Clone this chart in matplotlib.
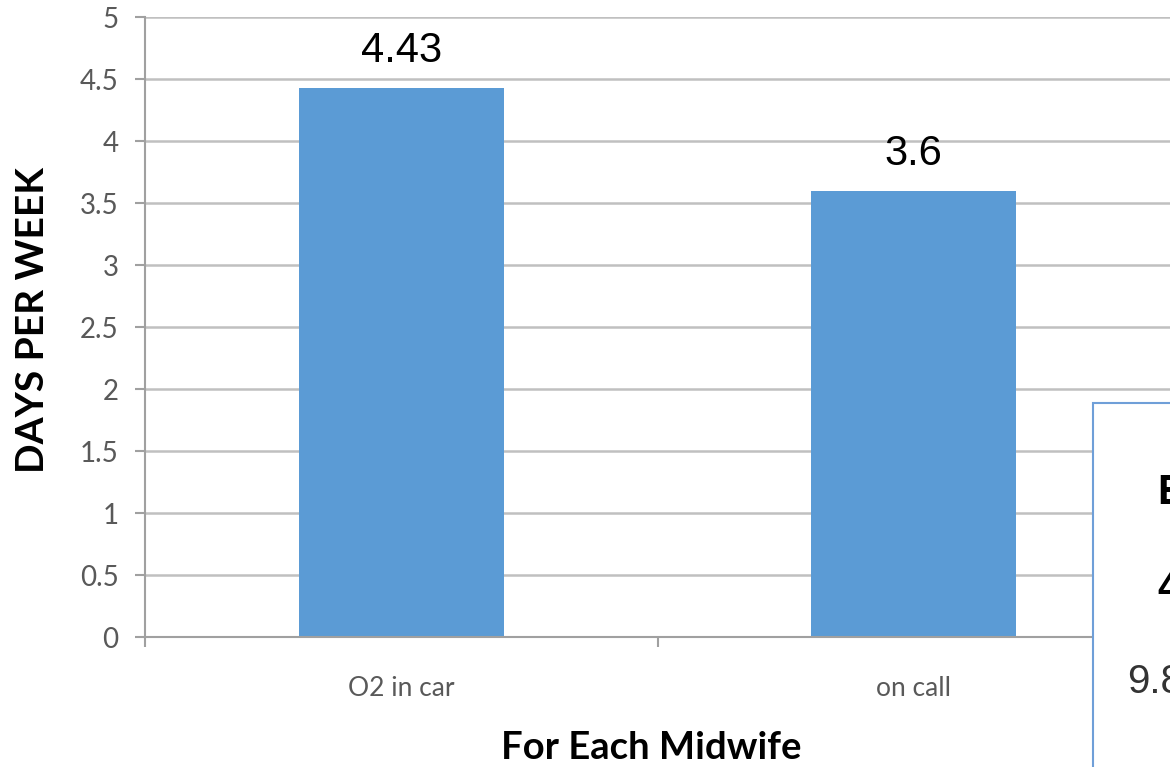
import matplotlib
matplotlib.use('Agg')
from matplotlib import pyplot as plt
from matplotlib.patches import Rectangle
import numpy as np

categories = ['O2 in car', 'on call']
days_per_week = [4.43, 3.6]
value_labels = ['4.43', '3.6']
yticks = [0, 0.5, 1, 1.5, 2, 2.5, 3, 3.5, 4, 4.5, 5]
ytick_labels = ['0', '0.5', '1', '1.5', '2', '2.5', '3', '3.5', '4', '4.5', '5']
# text of the partly visible box on the right edge
box_lines = ['E', '4', '9.8']

bar_color = '#5b9bd5'
grid_color = '#c0c0c0'
tick_color = '#595959'

fig = plt.figure(figsize=(11.7, 7.67), dpi=100)
ax = fig.add_axes([145 / 1170, 130 / 767, 1 - 145 / 1170, 620 / 767])

x = np.arange(len(categories))
ax.bar(x, days_per_week, width=0.4, color=bar_color, zorder=2)

for a, b, s in zip(x, days_per_week, value_labels):
    ax.annotate(s, (a, b), xytext=(0, 12), textcoords='offset points',
                ha='center', va='bottom', fontsize=30,
                family='Liberation Sans', color='black')

# the axis runs on past the right edge of the picture
ax.set_xlim(-0.5, 1.473)
ax.set_ylim(0, 5)
ax.set_yticks(yticks)
ax.set_yticklabels(ytick_labels, family='Lato', fontsize=20, color=tick_color)
ax.set_xticks(x)
ax.set_xticklabels(categories, family='Lato', fontsize=19, color=tick_color)
ax.set_xticks([-0.5, 0.5, 1.5], minor=True)

ax.tick_params(axis='y', length=7, width=1.5, color='#a0a0a0', pad=12)
ax.tick_params(axis='x', which='major', length=0, pad=28)
ax.tick_params(axis='x', which='minor', length=7, width=1.5, color='#a0a0a0')

ax.grid(True, axis='y', color=grid_color, linewidth=1.8, zorder=0)
ax.set_axisbelow(True)
for side in ['top', 'right']:
    ax.spines[side].set_visible(False)
ax.spines['left'].set_color('#a0a0a0')
ax.spines['left'].set_linewidth(1.5)
ax.spines['bottom'].set_color('#a0a0a0')
ax.spines['bottom'].set_linewidth(1.5)

fig.text(33 / 1170, 1 - 320 / 767, 'DAYS PER WEEK', rotation=90, ha='center',
         va='center', family='Lato', fontweight='bold', fontsize=28)
fig.text(651 / 1170, 1 - 748 / 767, 'For Each Midwife', ha='center',
         va='center', family='Lato', fontweight='bold', fontsize=27.5)

box = Rectangle((1093 / 1170, -0.1), 0.2, 0.1 + 1 - 403 / 767,
                transform=fig.transFigure, facecolor='white',
                edgecolor='#6f9fd8', linewidth=1.5, zorder=5)
fig.patches.append(box)
fig.text(1157 / 1170, 1 - 493 / 767, box_lines[0], ha='left', va='center',
         family='Liberation Sans', fontweight='bold', fontsize=30, zorder=6)
fig.text(1157 / 1170, 1 - 589 / 767, box_lines[1], ha='left', va='center',
         family='Liberation Sans', fontweight='bold', fontsize=30, zorder=6)
fig.text(1127 / 1170, 1 - 682 / 767, box_lines[2], ha='left', va='center',
         family='Liberation Sans', fontsize=29, color='#333333', zorder=6)

plt.savefig('out.png', dpi=100)
